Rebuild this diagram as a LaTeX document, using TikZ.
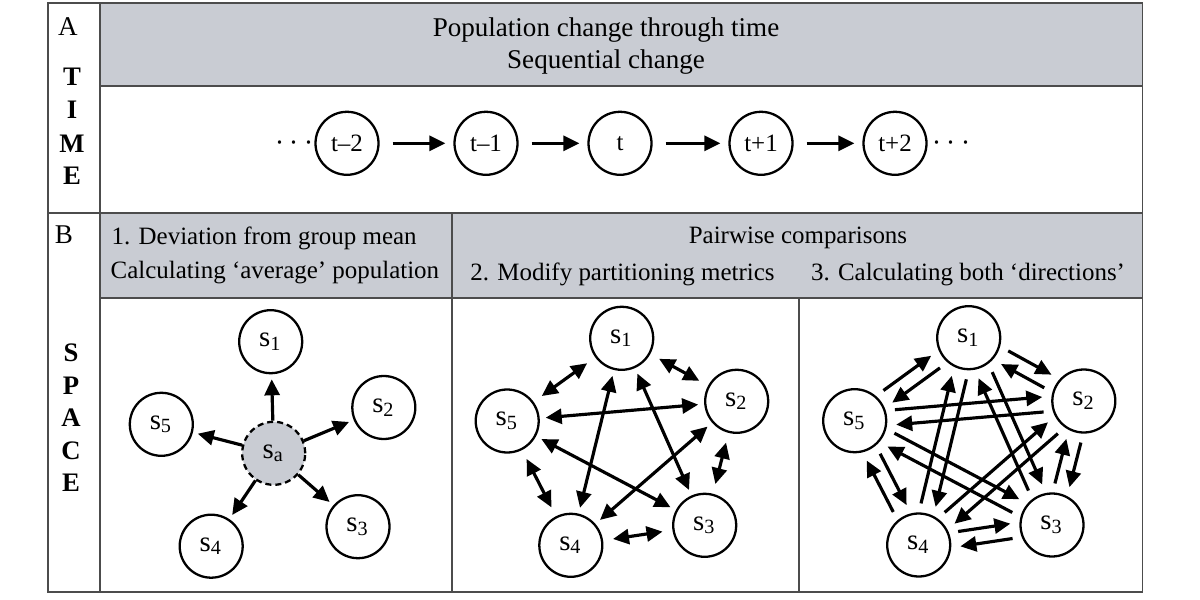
\documentclass[tikz,border=0pt]{standalone}
\usepackage{fontspec}
\setmainfont{Liberation Serif}
\usetikzlibrary{arrows.meta,calc}
\definecolor{headgray}{RGB}{201,204,211}

\begin{document}
\begin{tikzpicture}[x = 0.1mm, y = -0.1mm,
    grid/.style = {draw = black!70, line width = 0.55pt},
    txt/.style = {anchor = base, inner sep = 0pt, font = \fontsize{7.1pt}{9pt}\selectfont},
    big/.style = {txt, font = \fontsize{7.7pt}{9pt}\selectfont},
    ltr/.style = {txt, font = \fontsize{7.6pt}{9pt}\selectfont\bfseries},
    pop/.style = {circle, draw, line width = 0.65pt, minimum size = 6.3mm, inner sep = 0pt, font = \fontsize{7.1pt}{9pt}\selectfont},
    site/.style = {pop, font = \fontsize{8.2pt}{10pt}\selectfont},
    link/.style = {line width = 0.9pt, -{Triangle[length = 1.6mm, width = 1.5mm]}},
    both/.style = {line width = 0.9pt, {Triangle[length = 1.6mm, width = 1.5mm]}-{Triangle[length = 1.6mm, width = 1.5mm]}}]
    \useasboundingbox (0,0) rectangle (1200,600);
    \fill[headgray] (100,3.3) rectangle (1142.5,86);
    \fill[headgray] (100,213) rectangle (1142.5,298);
    \draw[grid] (47.7,3.3) rectangle (1142.5,591.7);
    \draw[grid]
    (100,3.3) -- (100,591.7) (100,86) -- (1142.5,86)
    (47.7,213) -- (1142.5,213) (100,298) -- (1142.5,298)
    (451.7,213) -- (451.7,591.7) (799,298) -- (799,591.7);

    \node[big] (la) at (68,36) {A};
    \node[ltr] (lt) at (72,86) {T};
    \node[ltr] (li) at (72,119) {I};
    \node[ltr] (lm) at (72,152) {M};
    \node[ltr] (le) at (72,185) {E};
    \node[big] (lb) at (64,243.3) {B};
    \node[ltr] (ls) at (71,361.7) {S};
    \node[ltr] (lp) at (71,394.2) {P};
    \node[ltr] (lx) at (71,426.7) {A};
    \node[ltr] (lc) at (71,459.2) {C};
    \node[ltr] (lf) at (71,491.7) {E};

    \node[big] (hd1) at (606,36.7) {Population change through time};
    \node[big] (hd2) at (606,68.3) {Sequential change};
    \node[txt, anchor = base west] (dv1) at (111,244.3) {1. Deviation from group mean};
    \node[txt, anchor = base west] (dv2) at (110,279) {Calculating `average' population};
    \node[txt] (pw) at (798,243.3) {Pairwise comparisons};
    \node[txt] (md) at (622.5,280) {2. Modify partitioning metrics};
    \node[txt] (cb) at (968,280) {3. Calculating both `directions'};

    \node[pop] (tm2) at (347,143.3) {t\textendash{}2};
    \node[pop] (tm1) at (486,143.3) {t\textendash{}1};
    \node[pop] (t0) at (620,143.3) {t};
    \node[pop] (tp1) at (761,143.3) {t+1};
    \node[pop] (tp2) at (895,143.3) {t+2};
    \node[txt] (dl) at (294.5,150) {\fontsize{9pt}{9pt}\selectfont$\cdots$};
    \node[txt] (dr) at (951.5,150) {\fontsize{9pt}{9pt}\selectfont$\cdots$};
    \draw[link, shorten <= 1.3mm, shorten >= 0.8mm] (tm2) -- (tm1);
    \draw[link, shorten <= 1.3mm, shorten >= 0.8mm] (tm1) -- (t0);
    \draw[link, shorten <= 1.3mm, shorten >= 0.8mm] (t0) -- (tp1);
    \draw[link, shorten <= 1.3mm, shorten >= 0.8mm] (tp1) -- (tp2);

    \node[site] (a1) at (270.7,341.7) {s\textsubscript{1}};
    \node[site] (a2) at (383.8,407.5) {s\textsubscript{2}};
    \node[site] (a3) at (358,526.7) {s\textsubscript{3}};
    \node[site] (a4) at (211.2,546.2) {s\textsubscript{4}};
    \node[site] (a5) at (161.3,424.3) {s\textsubscript{5}};
    \node[site, dash pattern = on 0.6mm off 0.4mm, fill = headgray] (aa) at (273.7,453.3) {s\textsubscript{a}};
    \draw[link, shorten >= 0.5mm] (aa) -- (a1);
    \draw[link, shorten >= 0.5mm] (aa) -- (a2);
    \draw[link, shorten >= 0.5mm] (aa) -- (a3);
    \draw[link, shorten >= 0.5mm] (aa) -- (a4);
    \draw[link, shorten >= 0.5mm] (aa) -- (a5);

    \node[site] (b1) at (621.7,338.3) {s\textsubscript{1}};
    \node[site] (b2) at (736.7,401.3) {s\textsubscript{2}};
    \node[site] (b3) at (704.7,525.3) {s\textsubscript{3}};
    \node[site] (b4) at (570.8,545.3) {s\textsubscript{4}};
    \node[site] (b5) at (507.2,421) {s\textsubscript{5}};
    \draw[both, shorten <= 1mm, shorten >= 1mm] (b1) -- (b2);
    \draw[both, shorten <= 1mm, shorten >= 1mm] (b2) -- (b3);
    \draw[both, shorten <= 1mm, shorten >= 1mm] (b3) -- (b4);
    \draw[both, shorten <= 1mm, shorten >= 1mm] (b4) -- (b5);
    \draw[both, shorten <= 1mm, shorten >= 1mm] (b5) -- (b1);
    \draw[both, shorten <= 0.6mm, shorten >= 0.6mm] (b1) -- (b3);
    \draw[both, shorten <= 0.6mm, shorten >= 0.6mm] (b1) -- (b4);
    \draw[both, shorten <= 0.6mm, shorten >= 0.6mm] (b2) -- (b4);
    \draw[both, shorten <= 0.6mm, shorten >= 0.6mm] (b2) -- (b5);
    \draw[both, shorten <= 0.6mm, shorten >= 0.6mm] (b3) -- (b5);

    \node[site] (c1) at (968.7,337.7) {s\textsubscript{1}};
    \node[site] (c2) at (1083.8,401) {s\textsubscript{2}};
    \node[site] (c3) at (1052,525) {s\textsubscript{3}};
    \node[site] (c4) at (918.7,545) {s\textsubscript{4}};
    \node[site] (c5) at (854.7,420.7) {s\textsubscript{5}};
    \draw[link, shorten <= 4.1mm, shorten >= 4.1mm] ($(c1)!0.75mm!90:(c2)$) -- ($(c2)!0.75mm!-90:(c1)$);
    \draw[link, shorten <= 4.1mm, shorten >= 4.1mm] ($(c2)!0.75mm!90:(c1)$) -- ($(c1)!0.75mm!-90:(c2)$);
    \draw[link, shorten <= 4.1mm, shorten >= 4.1mm] ($(c2)!0.75mm!90:(c3)$) -- ($(c3)!0.75mm!-90:(c2)$);
    \draw[link, shorten <= 4.1mm, shorten >= 4.1mm] ($(c3)!0.75mm!90:(c2)$) -- ($(c2)!0.75mm!-90:(c3)$);
    \draw[link, shorten <= 4.1mm, shorten >= 4.1mm] ($(c3)!0.75mm!90:(c4)$) -- ($(c4)!0.75mm!-90:(c3)$);
    \draw[link, shorten <= 4.1mm, shorten >= 4.1mm] ($(c4)!0.75mm!90:(c3)$) -- ($(c3)!0.75mm!-90:(c4)$);
    \draw[link, shorten <= 4.1mm, shorten >= 4.1mm] ($(c4)!0.75mm!90:(c5)$) -- ($(c5)!0.75mm!-90:(c4)$);
    \draw[link, shorten <= 4.1mm, shorten >= 4.1mm] ($(c5)!0.75mm!90:(c4)$) -- ($(c4)!0.75mm!-90:(c5)$);
    \draw[link, shorten <= 4.1mm, shorten >= 4.1mm] ($(c5)!0.75mm!90:(c1)$) -- ($(c1)!0.75mm!-90:(c5)$);
    \draw[link, shorten <= 4.1mm, shorten >= 4.1mm] ($(c1)!0.75mm!90:(c5)$) -- ($(c5)!0.75mm!-90:(c1)$);
    \draw[link, shorten <= 4.1mm, shorten >= 4.1mm] ($(c1)!0.75mm!90:(c3)$) -- ($(c3)!0.75mm!-90:(c1)$);
    \draw[link, shorten <= 4.1mm, shorten >= 4.1mm] ($(c3)!0.75mm!90:(c1)$) -- ($(c1)!0.75mm!-90:(c3)$);
    \draw[link, shorten <= 4.1mm, shorten >= 4.1mm] ($(c1)!0.75mm!90:(c4)$) -- ($(c4)!0.75mm!-90:(c1)$);
    \draw[link, shorten <= 4.1mm, shorten >= 4.1mm] ($(c4)!0.75mm!90:(c1)$) -- ($(c1)!0.75mm!-90:(c4)$);
    \draw[link, shorten <= 4.1mm, shorten >= 4.1mm] ($(c2)!0.75mm!90:(c4)$) -- ($(c4)!0.75mm!-90:(c2)$);
    \draw[link, shorten <= 4.1mm, shorten >= 4.1mm] ($(c4)!0.75mm!90:(c2)$) -- ($(c2)!0.75mm!-90:(c4)$);
    \draw[link, shorten <= 4.1mm, shorten >= 4.1mm] ($(c2)!0.75mm!90:(c5)$) -- ($(c5)!0.75mm!-90:(c2)$);
    \draw[link, shorten <= 4.1mm, shorten >= 4.1mm] ($(c5)!0.75mm!90:(c2)$) -- ($(c2)!0.75mm!-90:(c5)$);
    \draw[link, shorten <= 4.1mm, shorten >= 4.1mm] ($(c3)!0.75mm!90:(c5)$) -- ($(c5)!0.75mm!-90:(c3)$);
    \draw[link, shorten <= 4.1mm, shorten >= 4.1mm] ($(c5)!0.75mm!90:(c3)$) -- ($(c3)!0.75mm!-90:(c5)$);
\end{tikzpicture}
\end{document}
